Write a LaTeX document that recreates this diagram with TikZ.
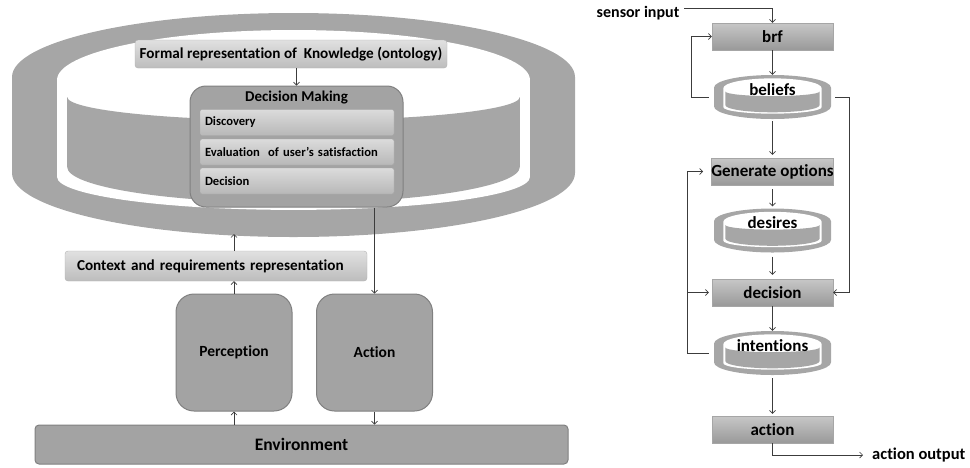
\documentclass[tikz,border=0pt]{standalone}
\usepackage{fontspec}
\setmainfont{Carlito}[Ligatures=NoCommon]
\usetikzlibrary{arrows.meta,positioning}
\definecolor{ringgray}{RGB}{166,166,166}
\definecolor{boxgray}{RGB}{163,163,163}
\definecolor{edgegray}{RGB}{128,128,128}
\definecolor{linegray}{RGB}{60,60,60}
\tikzset{
  pics/washer/.style={code={
    \fill[ringgray] (0,0.286) arc[start angle=180,end angle=360,x radius=0.5,y radius=0.286]
      -- (1,0.714) arc[start angle=0,end angle=180,x radius=0.5,y radius=0.286] -- cycle;
    \fill[white] (0.08,0.299) arc[start angle=180,end angle=360,x radius=0.42,y radius=0.223]
      -- (0.92,0.732) arc[start angle=0,end angle=180,x radius=0.42,y radius=0.147] -- cycle;
    \fill[ringgray] (0.098,0.375) arc[start angle=180,end angle=0,x radius=0.402,y radius=0.105]
      -- (0.902,0.6875) arc[start angle=0,end angle=180,x radius=0.402,y radius=0.16] -- cycle;
  }},
}
\begin{document}
\begin{tikzpicture}[x=1pt,y=-1pt,
  conn/.style={draw=linegray,line width=0.7pt,-{Straight Barb[length=3pt,width=6pt]}},
  kbox/.style={draw=black!30,top color=black!12,bottom color=black!26,rounded corners=3pt,
    font=\fontsize{15.2}{17}\selectfont\bfseries},
  agent/.style={draw=edgegray,line width=1pt,fill=boxgray,rounded corners=18pt,
    minimum width=116pt,minimum height=117pt,font=\fontsize{15.5}{17}\selectfont\bfseries},
  dmbox/.style={draw=edgegray,line width=1pt,fill=boxgray,rounded corners=16pt},
  subbox/.style={draw=black!35,top color=black!14,bottom color=black!28,rounded corners=2pt,
    minimum width=194pt,minimum height=26pt,text width=184pt,inner xsep=5pt,align=left,
    font=\fontsize{12.6}{14}\selectfont\bfseries},
  bdi/.style={draw=black!35,top color=black!22,bottom color=black!40,
    minimum width=121pt,minimum height=27pt,inner sep=0pt,font=\fontsize{17}{19}\selectfont\bfseries},
  store/.style={minimum width=117pt,minimum height=44pt,inner sep=0pt,text height=11pt,text depth=15pt,
    font=\fontsize{17}{19}\selectfont\bfseries},
  plain/.style={font=\fontsize{16.5}{18}\selectfont\bfseries}
]
\useasboundingbox (0,0) rectangle (970,467);

% agent architecture
\pic[xscale=563,yscale=224] at (12,13) {washer};
\node[kbox,minimum width=312pt,minimum height=28pt,inner sep=0pt] (formal) at (291,54) {Formal representation of\ \ Knowledge (ontology)};
\node[dmbox,minimum width=213pt,minimum height=121pt] (dm) at (296.5,146.5) {};
\node[font=\fontsize{15}{17}\selectfont\bfseries] (dmtitle) at (296.5,98) {Decision Making};
\node[subbox] (disc) at (297,122.5) {Discovery};
\node[subbox] (eval) at (297,152) {Evaluation\ \ of user’s satisfaction};
\node[subbox] (dec) at (297,181) {Decision};
\node[kbox,minimum width=302pt,minimum height=30pt,text width=290pt,inner xsep=6pt,inner ysep=0pt,align=left] (ctx) at (216,266) {\hspace*{6pt}Context and requirements representation};
\node[agent] (per) at (234,352.5) {Perception};
\node[agent] (act) at (374.5,352.5) {Action};
\node[draw=edgegray,line width=1pt,fill=boxgray,rounded corners=4pt,minimum width=533pt,minimum height=39pt,
  font=\fontsize{17.5}{19}\selectfont\bfseries] (env) at (301.5,444.5) {Environment};
\coordinate (ringbot) at (234,234);

\draw[conn] (formal.south -| dm) -- (dm.north);
\draw[conn] (ctx.north -| per) -- (ringbot);
\draw[conn] (per.north) -- (per.north |- ctx.south);
\draw[conn] (env.north -| per) -- (per.south);
\draw[conn] (dm.south -| act) -- (act.north);
\draw[conn] (act.south) -- (act.south |- env.north);

% BDI loop
\foreach \y in {75,208.5,331}
  \pic[xscale=117,yscale=44] at (714,\y) {washer};
\node[plain,font=\fontsize{16}{18}\selectfont\bfseries,inner sep=1pt] (sensor) at (638,13) {sensor input};
\node[bdi] (brf) at (772.5,36.5) {brf};
\node[store] (beliefs) at (772.5,97) {beliefs};
\node[bdi] (gen) at (772.5,171.5) {Generate options};
\node[store] (desires) at (772.5,230.5) {desires};
\node[bdi] (decision) at (772.5,292.5) {decision};
\node[store] (intentions) at (772.5,353) {intentions};
\node[bdi] (action) at (772.5,429.5) {action};
\node[plain,anchor=west,inner sep=1pt] (output) at (871,455) {action output};

\draw[conn,shorten <=4pt] ([yshift=5pt]sensor.east) -| (brf.north);
\draw[conn] (brf) -- (beliefs);
\draw[conn,shorten <=2pt,shorten >=3pt] (beliefs) -- (gen);
\draw[conn,shorten <=4pt,shorten >=2pt] (gen) -- (desires);
\draw[conn,shorten <=4pt,shorten >=4pt] (desires) -- (decision);
\draw[conn] (decision) -- (intentions);
\draw[conn,shorten <=3pt,shorten >=2pt] (intentions) -- (action);
\draw[conn,shorten <=5pt] (beliefs.west) -- ++(-22,0) |- (brf.west);
\draw[conn,shorten <=4pt] (beliefs.east) -- ++(18,0) |- (decision.east);
\draw[conn,shorten <=5pt,shorten >=8pt] (intentions.west) -- ++(-26,0) coordinate (loop) |- (gen.west);
\draw[conn,shorten >=3pt] (loop |- decision) -- (decision.west);
\draw[conn,shorten >=8pt] (action.south) |- (output.west);
\end{tikzpicture}
\end{document}
